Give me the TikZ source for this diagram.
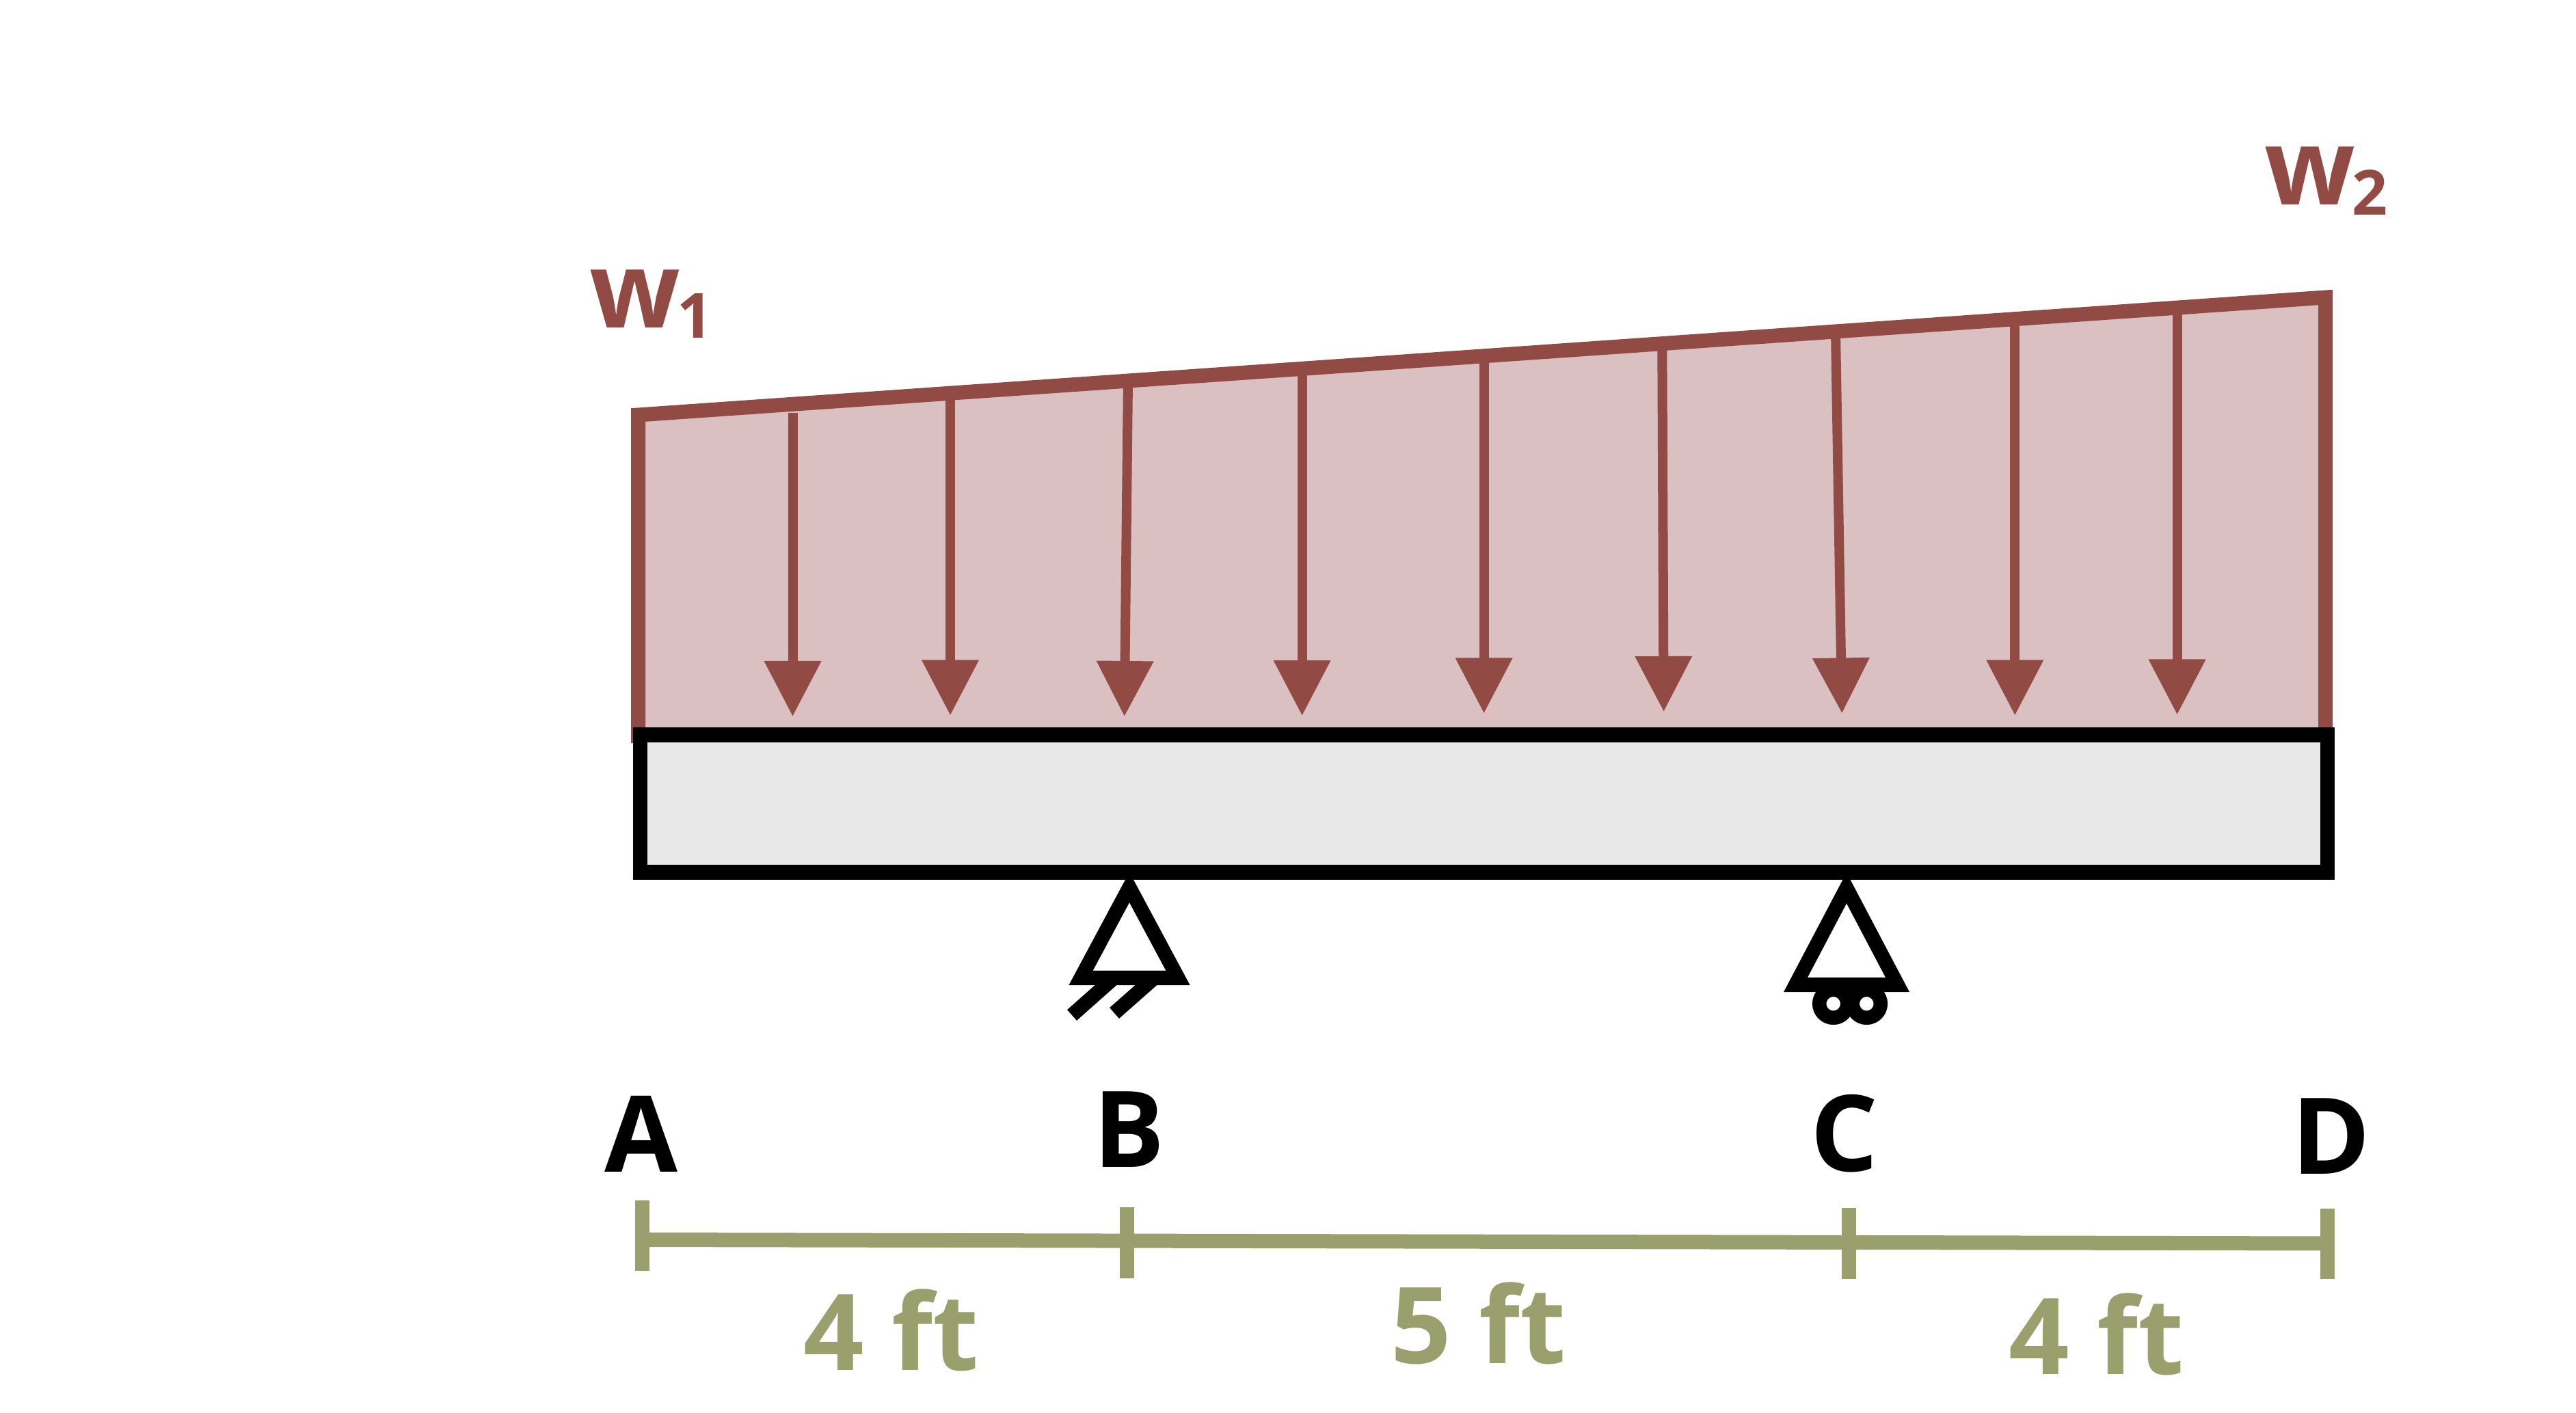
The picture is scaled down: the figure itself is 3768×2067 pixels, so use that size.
\documentclass[tikz,border=0pt]{standalone}
\usepackage{fontspec}
\setmainfont{Open Sans}
\usetikzlibrary{arrows.meta}

\definecolor{loadcol}{HTML}{924A44}
\definecolor{loadfill}{HTML}{DAC0C0}
\definecolor{beamfill}{HTML}{E7E7E7}
\definecolor{dimcol}{HTML}{99A06E}

\newcommand{\subdigit}[1]{\hspace{-0.05cm}\raisebox{-0.14cm}{\fontsize{25.9pt}{30pt}\selectfont #1}}

\tikzset{
    heavy/.style={line width=0.21cm},
    loadarrow/.style={loadcol, line width=0.14cm, -{Triangle[length=0.81cm, width=0.8cm]}},
    biglabel/.style={inner sep=0pt, anchor=base, font=\fontsize{44.1pt}{50pt}\selectfont\bfseries},
}

\begin{document}
\begin{tikzpicture}[x=0.01cm, y=-0.01cm]
    \useasboundingbox (0, 0) rectangle (3768, 2067);

    % The distributed load
    \draw[heavy, loadcol, fill=loadfill] (933.5, 1087) -- (933.5, 607) -- (3401.5, 435) -- (3401.5, 1087);

    % Load arrows: top x, top y, tip x, tip y
    \foreach \xa/\ya/\xb/\yb in {1159.5/604/1159.5/1048, 1390/575/1390/1046.5, 1650/557/1644.7/1048,
        1904.6/539/1904.6/1047, 2170.6/521/2170.6/1043.5, 2431.3/503/2433.6/1041,
        2685/485/2694.3/1043.5, 2947.3/467/2947.3/1046.5, 3184.6/450/3184.6/1045.5} {
        \draw[loadarrow] (\xa, \ya) -- (\xb, \yb);
    }

    % The beam
    \draw[heavy, fill=beamfill] (936.5, 1075) rectangle (3404, 1276);

    % Pin at B
    \draw[heavy] (1652, 1298) -- (1581, 1430.5) -- (1723, 1430.5) -- cycle;
    \draw[heavy] (1568, 1485) -- (1630, 1430);
    \draw[heavy] (1630, 1482) -- (1689, 1430);

    % Roller at C
    \draw[heavy] (2701, 1299) -- (2626.5, 1440.5) -- (2775.5, 1440.5) -- cycle;
    \foreach \x in {2681.7, 2730.3} {
        \draw[line width=0.205cm] (\x, 1468.3) circle (0.205cm);
    }

    % Load labels
    \node[biglabel, anchor=base west, loadcol] (wone) at (862, 480) {w\subdigit{1}};
    \node[biglabel, anchor=base west, loadcol] (wtwo) at (3312, 300) {w\subdigit{2}};

    % Point labels
    \node[biglabel] (labA) at (938, 1714) {A};
    \node[biglabel] (labB) at (1652, 1707) {B};
    \node[biglabel] (labC) at (2698, 1713) {C};
    \node[biglabel] (labD) at (3410, 1717) {D};

    % Dimension line with its ticks
    \coordinate (dimA) at (939, 1813.5);
    \coordinate (dimD) at (3404.5, 1819);
    \draw[heavy, dimcol] (dimA) -- (dimD);
    \foreach \x/\ya/\yb in {939/1756/1859, 1648/1766/1870, 2704.6/1767/1870.5, 3404.5/1768/1871} {
        \draw[heavy, dimcol] (\x, \ya) -- (\x, \yb);
    }

    % Span lengths
    \node[biglabel, dimcol] (spanAB) at (1304, 2004) {4 ft};
    \node[biglabel, dimcol] (spanBC) at (2163, 1994) {5 ft};
    \node[biglabel, dimcol] (spanCD) at (3067, 2010) {4 ft};
\end{tikzpicture}
\end{document}
